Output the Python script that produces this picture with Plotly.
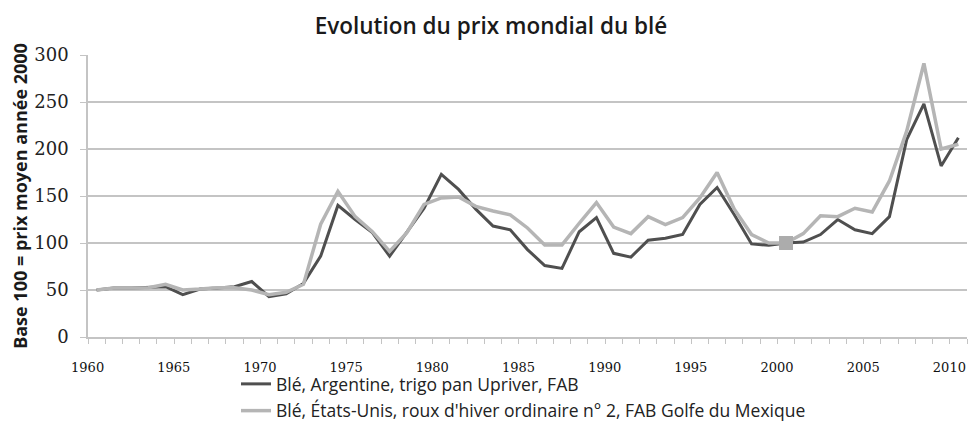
import plotly.graph_objects as go

years = list(range(1960, 2011))

argentine = [50, 52, 52, 52.5, 53.5, 45, 51, 52, 53.5, 59,
             43, 46, 57, 86, 140, 125, 111, 86, 111, 137,
             173, 157, 136, 118, 114, 93, 76, 73, 112, 127,
             89, 85, 103, 105, 109, 141, 159, 130, 99, 97.5,
             100, 101, 109, 125, 114, 110, 128, 210, 248, 182,
             212]

etats_unis = [50, 52, 52, 52.5, 56, 50, 51, 52.5, 52.5, 50,
              45, 47.5, 56, 120, 155, 128, 112, 91, 111, 141,
              148, 149, 139, 134, 130, 116, 98, 98, 121, 143,
              117, 110, 128, 119.5, 127, 148, 175, 136, 109, 100,
              100, 110, 129, 128, 137, 133, 166, 219, 291, 200,
              205]

base_year = 2000
x_tick_vals = list(range(1960, 2011, 5))
x_tick_text = [str(v) for v in x_tick_vals]
y_tick_vals = [0, 50, 100, 150, 200, 250, 300]

title_text = "Evolution du prix mondial du blé"
y_title = "Base 100 = prix moyen année 2000"
name_arg = "Blé, Argentine, trigo pan Upriver, FAB"
name_us = "Blé, États-Unis, roux d'hiver ordinaire n° 2, FAB Golfe du Mexique"

DARK = "#4f4f4f"
LIGHT = "#b5b5b5"
GRID = "#c4c4c4"

W, H = 968, 424  # page body has an 8px margin

fig = go.Figure()
fig.add_trace(go.Scatter(x=years, y=argentine, mode="lines", name=name_arg,
                         legendgroup="a",
                         line=dict(color=DARK, width=3)))
fig.add_trace(go.Scatter(x=years, y=etats_unis, mode="lines", name=name_us,
                         legendgroup="b",
                         line=dict(color=LIGHT, width=3.5)))
idx = years.index(base_year)
fig.add_trace(go.Scatter(x=[base_year], y=[etats_unis[idx]], mode="markers",
                         showlegend=False,
                         marker=dict(symbol="square", size=14, color="#acacac")))

fig.update_layout(
    width=W, height=H,
    margin=dict(l=80, r=9, t=47, b=95, autoexpand=False),
    paper_bgcolor="white", plot_bgcolor="white",
    title=dict(text=title_text, x=483 / W, xanchor="center", y=1 - 18 / H, yanchor="middle",
               font=dict(family="Open Sans", size=22.5, color="#1a1a1a", weight=600)),
    showlegend=True,
    legend=dict(x=148 / 879, xref="paper", xanchor="left",
                y=1 - 358 / H, yref="container", yanchor="top",
                orientation="v", tracegroupgap=1,
                font=dict(family="Open Sans", size=17.5, color="#222"),
                bgcolor="rgba(0,0,0,0)"),
)

fig.update_xaxes(
    automargin=False,
    range=[1959.5, 2010.5],
    tickmode="array", tickvals=x_tick_vals, ticktext=x_tick_text,
    ticks="", showgrid=False, zeroline=False,
    showline=True, linecolor=GRID, linewidth=1.5,
    tickfont=dict(family="DejaVu Serif", size=13, color="#111"),
    ticklabelstandoff=18, ticklabelshift=-9,
    minor=dict(tick0=1959.5, dtick=1, ticks="outside", ticklen=5,
               tickcolor=GRID, tickwidth=1, showgrid=False),
)
fig.update_yaxes(
    automargin=False,
    range=[0, 300], tickmode="array", tickvals=y_tick_vals,
    showgrid=True, gridcolor=GRID, gridwidth=1.5,
    zeroline=False, showline=True, linecolor=GRID, linewidth=1.5,
    ticks="outside", ticklen=6, tickcolor=GRID,
    tickfont=dict(family="DejaVu Serif", size=18, color="#222"),
    ticklabelstandoff=8,
    title=dict(text=y_title, standoff=8,
               font=dict(family="Open Sans", size=18, color="#1a1a1a", weight=700)),
)

fig.write_html("out.html")
